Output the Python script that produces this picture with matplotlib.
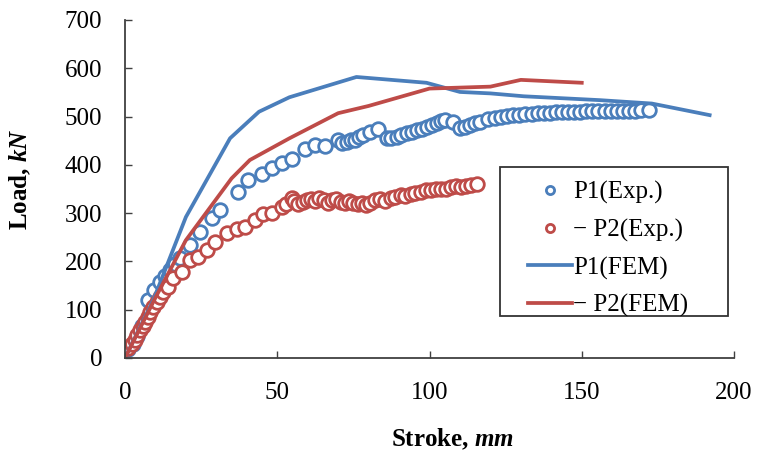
import numpy as np
import matplotlib
matplotlib.use('Agg')
import matplotlib.pyplot as plt
from matplotlib.patches import Rectangle

plt.rcParams['font.family'] = ['Liberation Serif', 'DejaVu Serif']
plt.rcParams['font.size'] = 18
plt.rcParams['mathtext.fontset'] = 'custom'
plt.rcParams['mathtext.it'] = 'Liberation Serif:italic:bold'
plt.rcParams['mathtext.rm'] = 'Liberation Serif:bold'

# P1 experiment (stroke mm, load kN)
p1_exp_x = [1.0, 2.5, 4.0, 5.5, 7.7, 9.5, 11.5, 13.0, 14.8, 16.5, 18.0, 21.3, 24.6, 28.5,
            31.2, 37.2, 40.5, 44.9, 48.2, 51.5, 54.7, 59.1, 62.4, 65.7, 70.0, 71.4, 72.8,
            74.2, 75.5, 77.0, 78.3, 80.5, 83.2, 85.9, 87.5, 89.2, 90.8, 92.5, 94.1, 95.8,
            97.4, 99.1, 100.7, 102.4, 103.8, 105.1, 107.8, 110.0, 111.6, 113.3, 115.0,
            116.6, 119.3, 121.5, 123.5, 125.5, 127.5, 129.5, 131.5, 133.5, 135.5, 137.5,
            139.5, 141.5, 143.5, 145.5, 147.5, 149.5, 151.5, 153.5, 155.5, 157.5, 159.5,
            161.5, 163.5, 165.5, 167.5, 169.5, 172.0]
p1_exp_y = [18, 30, 46, 66, 120, 140, 158, 170, 182, 195, 207, 234, 261, 289,
            306, 344, 368, 382, 393, 403, 413, 432, 441, 439, 451, 446, 448,
            452, 451, 458, 462, 468, 475, 455, 456, 458, 462, 465, 468, 472,
            475, 479, 482, 486, 490, 493, 489, 476, 479, 482, 486,
            489, 496, 498, 500, 502, 503, 504, 505, 506, 507, 508,
            508, 509, 509, 510, 510, 510, 511, 511, 511, 512, 512,
            512, 512, 512, 512, 513, 513]

# -P2 experiment
p2_exp_x = [1.0, 2.2, 3.3, 4.1, 4.9, 5.8, 6.6, 7.4, 8.2, 9.3, 10.4, 11.5, 12.6, 14.2,
            15.9, 18.6, 21.3, 24.1, 26.8, 29.6, 33.4, 36.7, 39.4, 42.7, 45.4, 48.2,
            51.5, 53.0, 54.7, 55.5, 56.9, 58.3, 59.7, 61.0, 62.4, 63.8, 65.2, 66.6,
            68.0, 69.4, 70.8, 72.2, 73.6, 75.0, 76.4, 77.8, 79.2, 80.6, 82.2, 83.9,
            85.5, 87.2, 88.8, 90.5, 92.1, 93.8, 95.4, 97.1, 98.7, 100.4, 102.0, 103.7,
            105.3, 107.0, 108.6, 110.3, 111.9, 113.6, 115.5]
p2_exp_y = [20, 28, 37, 47, 58, 66, 75, 85, 96, 106, 117, 127, 137, 148,
            165, 179, 203, 210, 224, 241, 258, 268, 272, 286, 298, 300,
            313, 318, 331, 325, 319, 324, 327, 330, 326, 331, 328, 322,
            328, 330, 324, 322, 325, 320, 318, 322, 317, 320, 327, 330,
            326, 331, 334, 337, 336, 339, 341, 343, 347, 348, 350, 349,
            351, 354, 356, 355, 357, 358, 360]

# FEM curves
p1_fem_x = [0, 9.3, 20, 34.5, 44, 54, 76, 99, 110, 120, 131, 156, 173, 192]
p1_fem_y = [0, 120, 292, 455, 510, 540, 582, 570, 551, 548, 542, 534, 527, 503]
p2_fem_x = [0, 10, 20, 35, 41, 54, 70, 80, 100, 120, 130, 150]
p2_fem_y = [0, 125, 244, 372, 410, 455, 507, 522, 558, 562, 576, 570]

blue = '#4A7EBB'
red = '#BE4B48'

fig = plt.figure(figsize=(7.59, 4.53), dpi=100)
ax = fig.add_axes([125/759, 95/453, 609/759, 338/453])

ax.plot(p1_exp_x, p1_exp_y, 'o', ms=9.8, mfc='white', mec=blue, mew=2.0, label='P1(Exp.)')
ax.plot(p2_exp_x, p2_exp_y, 'o', ms=9.8, mfc='white', mec=red, mew=2.0, label='\u2212 P2(Exp.)')
ax.plot(p1_fem_x, p1_fem_y, '-', color=blue, lw=2.7, label='P1(FEM)')
ax.plot(p2_fem_x, p2_fem_y, '-', color=red, lw=2.7, label='\u2212 P2(FEM)')

ax.set_xlim(0, 200)
ax.set_ylim(0, 700)
ax.set_xticks([0, 50, 100, 150, 200])
ax.set_yticks(range(0, 701, 100))
ax.spines['top'].set_visible(False)
ax.spines['right'].set_visible(False)
for s in ['left', 'bottom']:
    ax.spines[s].set_color('#404040')
    ax.spines[s].set_linewidth(1.3)
ax.tick_params(direction='in', length=5, width=1, color='#404040')
ax.tick_params(axis='x', pad=17)
ax.tick_params(axis='y', pad=16.5)

ax.set_xlabel('Stroke, $mm$', fontweight='bold')
ax.set_ylabel('Load, $kN$', fontweight='bold')
ax.xaxis.set_label_coords(0.537, -0.203)
ax.yaxis.set_label_coords(-0.151, 0.53)

leg = ax.legend(loc='upper left', bbox_to_anchor=(0.642, 0.56), frameon=False,
                handlelength=1.75, handletextpad=0.02, labelspacing=0.58,
                markerscale=0.6, borderpad=0)
ax.add_patch(Rectangle((0.616, 0.124), 0.374, 0.441, transform=ax.transAxes,
                       fill=False, ec='#333333', lw=1.3, clip_on=False))

fig.savefig('out.png', dpi=100)
